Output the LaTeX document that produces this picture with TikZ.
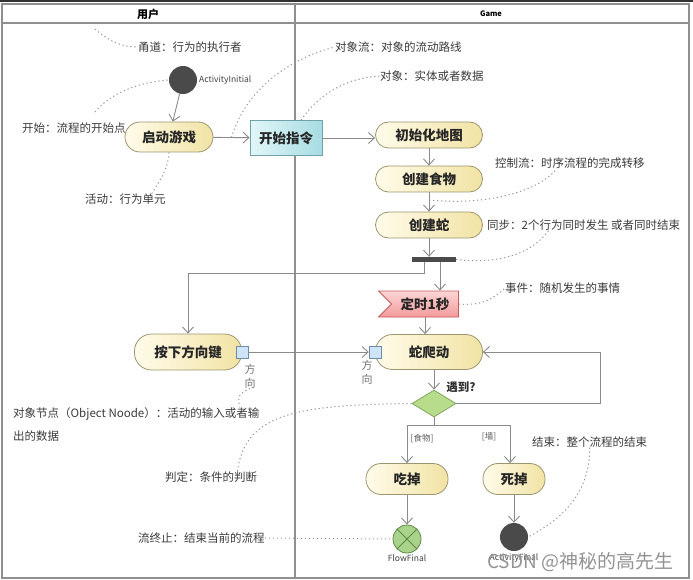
\documentclass[tikz,border=0pt]{standalone}
\usepackage{fontspec}
\setmainfont{Noto Sans CJK SC}
\usepackage{xcolor}
\usepackage{tikz}
\usetikzlibrary{shapes.geometric, shapes.symbols, arrows.meta}

\definecolor{lanegray}{HTML}{8F8F8F}
\definecolor{flowgray}{HTML}{8A8A8A}
\definecolor{remgray}{HTML}{9A9A9A}
\definecolor{remtextcol}{HTML}{3A3A3A}
\definecolor{actlight}{HTML}{FFFBEA}
\definecolor{actdark}{HTML}{F1E3A4}
\definecolor{actborder}{HTML}{9C9670}
\definecolor{objlight}{HTML}{E2F6F8}
\definecolor{objdark}{HTML}{A6DCE2}
\definecolor{objborder}{HTML}{6FA3AA}
\definecolor{siglight}{HTML}{FCD6D6}
\definecolor{sigdark}{HTML}{F39A9A}
\definecolor{sigborder}{HTML}{C85A5A}
\definecolor{decfill}{HTML}{B6DC8C}
\definecolor{decborder}{HTML}{7FA85A}
\definecolor{finfill}{HTML}{A9D38B}
\definecolor{finborder}{HTML}{5E8A44}
\definecolor{dotgray}{HTML}{4A4A4A}
\definecolor{portfill}{HTML}{CFE4F7}
\definecolor{portborder}{HTML}{6C8CA8}

\tikzstyle{lane} = [draw=lanegray, line width=1.4pt]
\tikzstyle{action} = [draw=actborder, line width=0.8pt, rounded corners=13pt, left color=actlight, right color=actdark, inner sep=0pt, text=black!85, font=\fontsize{13.5}{15}\selectfont\bfseries, minimum width=107pt, minimum height=26pt]
\tikzstyle{objbox} = [rectangle, draw=objborder, line width=0.8pt, left color=objlight, right color=objdark, inner sep=0pt, text=black!85, font=\fontsize{13.5}{15}\selectfont\bfseries, minimum width=72pt, minimum height=35pt]
\tikzstyle{sigbox} = [signal, signal from=west, signal to=nowhere, draw=sigborder, line width=0.8pt, top color=siglight, bottom color=sigdark, inner sep=0pt, text=black!85, font=\fontsize{13.5}{15}\selectfont\bfseries, minimum width=80pt, minimum height=26pt]
\tikzstyle{decision} = [diamond, aspect=1.63, draw=decborder, fill=decfill, line width=0.8pt, inner sep=0pt, minimum width=44pt, minimum height=27pt]
\tikzstyle{portbox} = [rectangle, draw=portborder, fill=portfill, line width=0.7pt, minimum size=12pt, inner sep=0pt]
\tikzstyle{bigdot} = [circle, fill=dotgray, minimum size=28pt, inner sep=0pt]
\tikzstyle{flowend} = [circle, draw=finborder, fill=finfill, line width=0.8pt, minimum size=28pt, inner sep=0pt]
\tikzstyle{flow} = [draw=flowgray, line width=0.9pt, -{Straight Barb[length=6pt,width=11pt]}]
\tikzstyle{wire} = [draw=flowgray, line width=0.9pt]
\tikzstyle{remark} = [draw=remgray, line width=1pt, dash pattern=on 1.3pt off 2.7pt]
\tikzstyle{remtext} = [anchor=west, inner sep=0pt, text=remtextcol, font=\fontsize{11.5}{14}\selectfont]
\tikzstyle{tag} = [inner sep=0pt, text=black!75, font=\fontsize{8.5}{10}\selectfont]

\begin{document}
\begin{tikzpicture}[x=1pt, y=-1pt, node distance=44pt]
    \useasboundingbox (0,0) rectangle (693,580);

    % Swimlanes
    \fill[black!80] (0,0) rectangle (693,2);
    \draw[lane] (2,4) rectangle (689,578);
    \draw[lane] (2,23) -- (689,23);
    \draw[lane] (295,4) -- (295,578);
    \node (userHead) at (148,14) {\fontsize{11}{12}\selectfont\bfseries 用户};
    \node (gameHead) at (491,14) {\fontsize{7.5}{9}\selectfont\bfseries Game};

    % Nodes
    \node[bigdot] (start) at (183,80) {};
    \node[tag, anchor=west] (startLabel) at (199,80) {ActivityInitial};
    \node[action, minimum width=88pt, minimum height=30pt, rounded corners=15pt] (launch) at (169,137) {启动游戏};
    \node[objbox] (cmd) at (286,138) {开始指令};
    \node[action] (initmap) at (429,135) {初始化地图};
    \node[action] (food) [below of=initmap] {创建食物};
    \node[action, node distance=46pt] (snake) [below of=food] {创建蛇};
    \node[rectangle, fill=dotgray, minimum width=44pt, minimum height=5pt, inner sep=0pt] (bar) at (434,259.5) {};
    \node[sigbox] (timer) at (425,304) {定时1秒};
    \node[action, minimum height=35pt, rounded corners=17pt] (crawl) at (429,352) {蛇爬动};
    \node[action, minimum height=36pt, rounded corners=17pt] (press) at (188,352) {按下方向键};
    \node[portbox] (portA) at (press.east) {};
    \node[portbox] (portB) at (crawl.west) {};
    \node[align=center, inner sep=0pt, text=black!55, font=\fontsize{11}{14}\selectfont] (dirA) at (250,376) {方\\向};
    \node[align=center, inner sep=0pt, text=black!55, font=\fontsize{11}{14}\selectfont] (dirB) at (367,372) {方\\向};
    \node[decision] (decision) at (434,403.5) {};
    \node[inner sep=0pt, text=black!80, font=\fontsize{11.5}{13}\selectfont\bfseries] (hitLabel) at (461,387) {遇到?};
    \node[action, minimum width=82pt, minimum height=31pt, rounded corners=15pt] (eat) at (407,479) {吃掉};
    \node[action, minimum width=62pt, minimum height=31pt, rounded corners=15pt, node distance=107pt] (die) [right of=eat] {死掉};
    \node[flowend, node distance=60pt] (flowfin) [below of=eat] {};
    \node[bigdot, node distance=58pt] (actfin) [below of=die] {};
    \node[tag] (flowLabel) at (407,558) {FlowFinal};
    \node[tag] (endLabel) at (514,558) {ActivityFinal};
    \node[tag, text=black!65] (foodGuard) at (422,439) {[食物]};
    \node[tag, text=black!65] (wallGuard) at (489,437) {[墙]};
    \coordinate (split) at (434,425);

    % Edges
    \draw[flow] (start) -- (launch);
    \draw[flow] (launch) -- coordinate[pos=0.5] (objflowTail) (cmd);
    \draw[flow] (cmd) -- (cmd -| initmap.west);
    \draw[flow] (initmap) -- (food);
    \draw[flow] (food) -- coordinate[pos=0.4] (ctrlTail) (snake);
    \draw[flow] (snake.south) -- (snake.south |- bar.north);
    \draw[flow] ([xshift=-10pt]bar.south) -- ++(0,11) -| (press.north);
    \draw[flow] ([xshift=6pt]bar.south) -- ([xshift=6pt]bar.south |- timer.north);
    \draw[flow] (timer.south) -- (timer.south |- crawl.north);
    \draw[flow] (portA) -- (portB);
    \draw[flow] (crawl.south -| decision.north) -- (decision.north);
    \draw[flow] (decision.east) -- ++(144,0) |- (crawl.east);
    \draw[wire] (decision.south) -- (split);
    \draw[flow] (split) -| (eat.north);
    \draw[flow] (split) -| ([xshift=-4pt]die.north);
    \draw[flow] (eat) -- (flowfin);
    \draw[flow] (die) -- (actfin);
    \draw[finborder, line width=0.9pt] (flowfin.45) -- (flowfin.225);
    \draw[finborder, line width=0.9pt] (flowfin.135) -- (flowfin.315);

    % Notes
    \node[remtext] (laneNote) at (138,47) {甬道：行为的执行者};
    \node[remtext] (startNote) at (22,128) {开始：流程的开始点};
    \node[remtext] (actNote) at (85,199) {活动：行为单元};
    \node[remtext] (objflowNote) at (335,47) {对象流：对象的流动路线};
    \node[remtext] (objNote) at (380,76) {对象：实体或者数据};
    \node[remtext] (ctrlNote) at (495,163) {控制流：时序流程的完成转移};
    \node[remtext] (syncNote) at (487,225) {同步：2个行为同时发生 或者同时结束};
    \node[remtext] (eventNote) at (505,288) {事件：随机发生的事情};
    \node[remtext, align=left, font=\fontsize{11.5}{23}\selectfont] (objnodeNote) at (13,424.5) {对象节点（Object Noode）：活动的输入或者输\\出的数据};
    \node[remtext] (decideNote) at (165,477) {判定：条件的判断};
    \node[remtext] (endFlowNote) at (138,538) {流终止：结束当前的流程};
    \node[remtext] (finalNote) at (532,442) {结束：整个流程的结束};
    \coordinate (laneTail) at (95,29);
    \coordinate (startTail) at (95,112);

    \draw[remark] (laneTail) .. controls (110,42) and (122,47) .. (laneNote.west);
    \draw[remark] (startTail) .. controls (112,92) and (140,82) .. (start.west);
    \draw[remark] (launch.south) .. controls (168,170) and (160,180) .. ([xshift=-14pt]actNote.north east);
    \draw[remark] (objflowTail) .. controls (245,90) and (290,58) .. (objflowNote.west);
    \draw[remark] (cmd.50) .. controls (318,95) and (345,78) .. (objNote.west);
    \draw[remark] (ctrlTail) .. controls (480,205) and (535,195) .. ([xshift=-13pt]ctrlNote.south);
    \draw[remark] (bar.east) .. controls (495,264) and (530,256) .. ([xshift=-35pt]syncNote.south);
    \draw[remark] (timer.east) .. controls (480,306) and (492,300) .. (eventNote.west);
    \draw[remark] (dirA.south) .. controls (238,395) .. ([xshift=-20pt]objnodeNote.north east);
    \draw[remark] (decision.west) .. controls (300,405) and (245,412) .. ([xshift=-20pt]decideNote.north east);
    \draw[remark] (endFlowNote.east) -- (flowfin.west);
    \draw[remark] (finalNote.south) .. controls (590,495) and (560,520) .. (actfin.east);

    \node[anchor=west, inner sep=0pt, text=gray!85, font=\fontsize{19}{21}\selectfont] (mark) at (487,562) {CSDN @神秘的高先生};
\end{tikzpicture}
\end{document}
